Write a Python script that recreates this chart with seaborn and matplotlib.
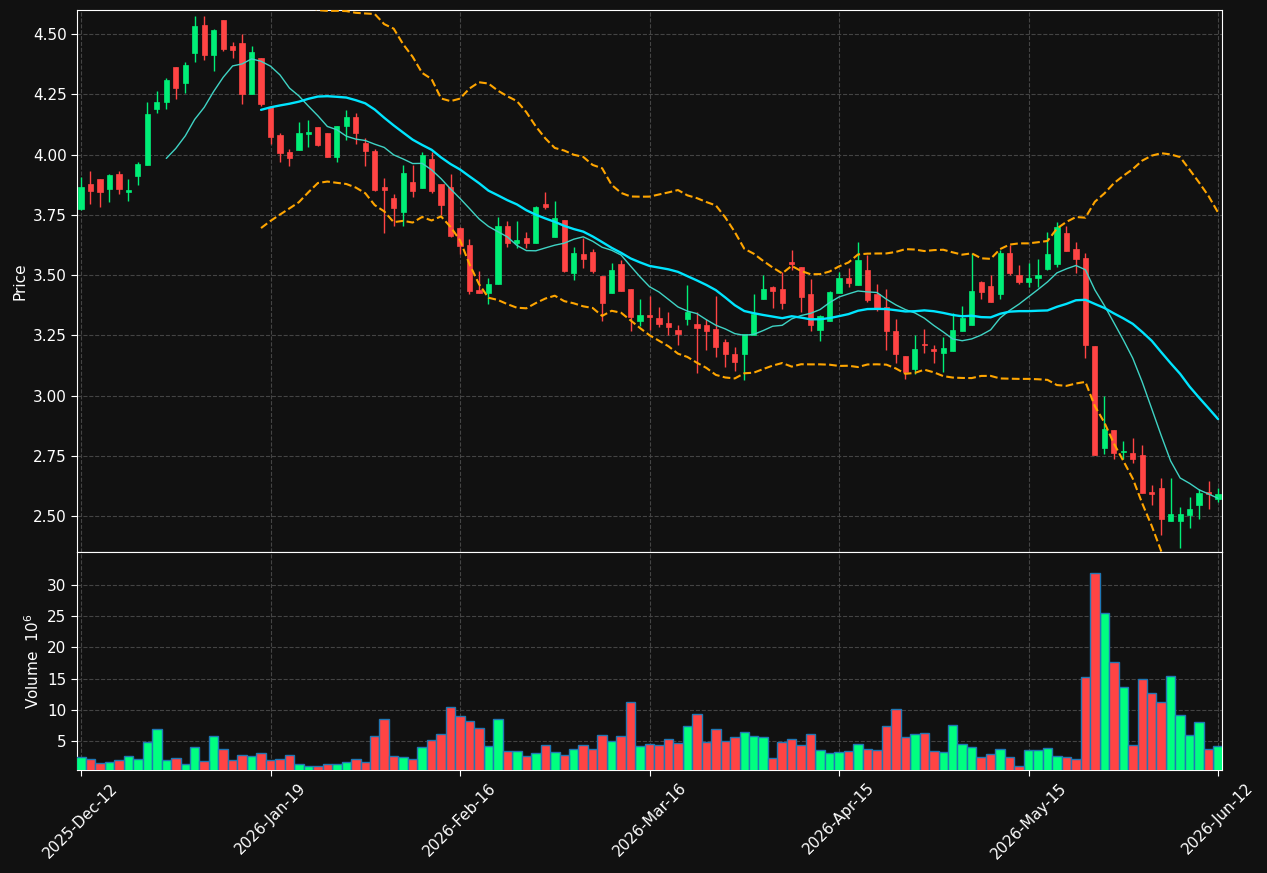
import matplotlib
matplotlib.use("Agg")
import matplotlib.pyplot as plt
import numpy as np
import pandas as pd
import seaborn as sns

# x positions are trading-day indices; only the tick labels carry dates
tick_pos = [0, 20, 40, 60, 80, 100, 120]
tick_labels = ['2025-Dec-12', '2026-Jan-19', '2026-Feb-16', '2026-Mar-16',
               '2026-Apr-15', '2026-May-15', '2026-Jun-12']

opens = [3.774, 3.878, 3.898, 3.857, 3.919, 3.846, 3.912, 3.958, 4.189, 4.219,
         4.363, 4.298, 4.422, 4.537, 4.414, 4.558, 4.450, 4.463, 4.252, 4.400,
         4.196, 4.081, 4.010, 4.019, 4.085, 4.114, 4.089, 3.991, 4.120, 4.156,
         4.048, 4.015, 3.865, 3.820, 3.763, 3.886, 3.862, 3.981, 3.878, 3.865,
         3.696, 3.624, 3.438, 3.427, 3.463, 3.703, 3.633, 3.654, 3.634, 3.796,
         3.660, 3.728, 3.509, 3.587, 3.595, 3.496, 3.427, 3.546, 3.442, 3.310,
         3.334, 3.322, 3.301, 3.272, 3.317, 3.297, 3.293, 3.276, 3.222, 3.172,
         3.173, 3.251, 3.400, 3.450, 3.442, 3.554, 3.533, 3.421, 3.272, 3.309,
         3.425, 3.488, 3.459, 3.521, 3.421, 3.367, 3.268, 3.164, 3.110, 3.214,
         3.193, 3.176, 3.185, 3.268, 3.293, 3.471, 3.454, 3.421, 3.591, 3.500,
         3.472, 3.489, 3.525, 3.546, 3.673, 3.607, 3.569, 3.205, 2.784, 2.857,
         2.764, 2.761, 2.753, 2.600, 2.616, 2.480, 2.480, 2.506, 2.547, 2.600,
         2.572]
highs = [3.908, 3.934, 3.900, 3.920, 3.934, 3.898, 3.968, 4.217, 4.263, 4.320,
         4.363, 4.385, 4.575, 4.575, 4.521, 4.558, 4.468, 4.499, 4.450, 4.402,
         4.200, 4.088, 4.022, 4.134, 4.143, 4.115, 4.090, 4.118, 4.185, 4.171,
         4.071, 4.022, 3.905, 3.835, 3.959, 3.955, 4.009, 4.012, 3.880, 3.918,
         3.700, 3.648, 3.517, 3.486, 3.743, 3.725, 3.723, 3.680, 3.786, 3.843,
         3.806, 3.730, 3.615, 3.655, 3.608, 3.497, 3.549, 3.562, 3.443, 3.399,
         3.413, 3.367, 3.346, 3.293, 3.459, 3.346, 3.317, 3.413, 3.234, 3.200,
         3.255, 3.421, 3.499, 3.454, 3.511, 3.604, 3.534, 3.485, 3.334, 3.434,
         3.514, 3.530, 3.636, 3.583, 3.463, 3.442, 3.317, 3.165, 3.250, 3.276,
         3.210, 3.243, 3.342, 3.371, 3.591, 3.475, 3.500, 3.604, 3.624, 3.541,
         3.551, 3.565, 3.680, 3.721, 3.705, 3.636, 3.590, 3.206, 2.997, 2.858,
         2.810, 2.822, 2.794, 2.627, 2.658, 2.658, 2.536, 2.578, 2.612, 2.644,
         2.615]
lows = [3.770, 3.797, 3.783, 3.804, 3.835, 3.808, 3.876, 3.958, 4.173, 4.190,
        4.229, 4.254, 4.383, 4.392, 4.345, 4.432, 4.402, 4.212, 4.250, 4.200,
        4.046, 3.968, 3.951, 4.019, 4.032, 4.035, 3.990, 3.970, 4.059, 4.046,
        3.951, 3.850, 3.673, 3.705, 3.705, 3.825, 3.860, 3.839, 3.749, 3.660,
        3.587, 3.422, 3.427, 3.379, 3.463, 3.617, 3.613, 3.613, 3.634, 3.773,
        3.660, 3.515, 3.478, 3.528, 3.509, 3.308, 3.427, 3.434, 3.268, 3.290,
        3.272, 3.284, 3.250, 3.208, 3.293, 3.092, 3.189, 3.161, 3.120, 3.103,
        3.063, 3.251, 3.400, 3.363, 3.359, 3.521, 3.348, 3.269, 3.226, 3.309,
        3.425, 3.451, 3.459, 3.387, 3.350, 3.189, 3.136, 3.070, 3.090, 3.178,
        3.136, 3.099, 3.185, 3.268, 3.293, 3.400, 3.388, 3.399, 3.500, 3.463,
        3.451, 3.449, 3.520, 3.534, 3.600, 3.508, 3.158, 2.754, 2.759, 2.735,
        2.738, 2.721, 2.597, 2.547, 2.420, 2.478, 2.366, 2.449, 2.486, 2.528,
        2.559]
closes = [3.865, 3.850, 3.846, 3.916, 3.857, 3.853, 3.961, 4.168, 4.218, 4.309,
          4.277, 4.371, 4.533, 4.414, 4.517, 4.439, 4.435, 4.252, 4.425, 4.211,
          4.074, 4.007, 3.987, 4.089, 4.093, 4.039, 3.991, 4.118, 4.156, 4.090,
          4.016, 3.853, 3.854, 3.779, 3.923, 3.850, 3.998, 3.849, 3.790, 3.663,
          3.622, 3.435, 3.427, 3.465, 3.703, 3.634, 3.645, 3.633, 3.782, 3.782,
          3.736, 3.518, 3.591, 3.566, 3.518, 3.385, 3.521, 3.434, 3.326, 3.334,
          3.326, 3.297, 3.284, 3.255, 3.346, 3.280, 3.268, 3.203, 3.173, 3.140,
          3.255, 3.338, 3.442, 3.434, 3.384, 3.546, 3.409, 3.293, 3.330, 3.429,
          3.488, 3.467, 3.562, 3.396, 3.359, 3.268, 3.172, 3.099, 3.193, 3.210,
          3.185, 3.197, 3.272, 3.322, 3.434, 3.429, 3.388, 3.591, 3.508, 3.471,
          3.488, 3.500, 3.587, 3.698, 3.601, 3.568, 3.211, 2.754, 2.861, 2.763,
          2.771, 2.738, 2.597, 2.593, 2.489, 2.508, 2.508, 2.529, 2.594, 2.591,
          2.591]
# volume in millions
volumes = [2.39, 2.07, 1.43, 1.59, 1.91, 2.55, 2.07, 4.79, 6.87, 1.91,
           2.23, 1.27, 3.99, 1.75, 5.75, 3.67, 1.91, 2.71, 2.55, 3.03,
           1.91, 2.07, 2.71, 1.27, 1.05, 1.05, 1.27, 1.27, 1.59, 2.07,
           1.59, 5.75, 8.47, 2.55, 2.39, 2.07, 3.99, 5.11, 6.07, 10.40,
           8.96, 8.16, 7.04, 4.15, 8.47, 3.35, 3.35, 2.55, 3.03, 4.31,
           3.19, 2.71, 3.67, 4.31, 3.67, 5.91, 4.95, 5.75, 11.20, 4.15,
           4.47, 4.31, 5.27, 4.63, 7.36, 9.28, 4.79, 6.87, 4.95, 5.59,
           6.39, 5.75, 5.59, 2.23, 4.79, 5.27, 4.31, 6.07, 3.51, 3.03,
           3.19, 3.35, 4.47, 3.67, 3.51, 7.36, 10.08, 5.59, 6.07, 6.23,
           3.35, 3.19, 7.52, 4.47, 3.99, 2.39, 2.87, 3.67, 2.39, 0.95,
           3.51, 3.51, 3.83, 2.55, 2.39, 2.07, 15.21, 31.87, 25.46, 17.61,
           13.60, 4.31, 14.89, 12.64, 11.20, 15.37, 9.12, 5.91, 8.00, 3.67,
           4.15]

UP = '#00ee77'
DOWN = '#ff4444'
BG = '#111111'

sns.set_style("dark", rc={
    "axes.facecolor": BG, "figure.facecolor": BG,
    "axes.edgecolor": "white", "text.color": "white",
    "axes.labelcolor": "white", "xtick.color": "white", "ytick.color": "white",
    "grid.color": "#444444", "grid.linestyle": "--",
})
plt.rcParams['font.family'] = ['DejaVu Sans']

df = pd.DataFrame({'o': opens, 'h': highs, 'l': lows, 'c': closes, 'v': volumes})
df['i'] = np.arange(len(df))
df['dir'] = np.where(df['c'] >= df['o'], 'up', 'down')
df['sma10'] = df['c'].rolling(10).mean()
df['sma20'] = df['c'].rolling(20).mean()
std20 = df['c'].rolling(20).std(ddof=0)
df['bb_up'] = df['sma20'] + 2 * std20
df['bb_lo'] = df['sma20'] - 2 * std20

fig = plt.figure(figsize=(12.67, 8.73), dpi=100)
ax = fig.add_axes([0.0608, 0.3677, 0.9037, 0.6208])
axv = fig.add_axes([0.0608, 0.118, 0.9037, 0.2497], sharex=ax)

# candles
cols = np.where(df['dir'] == 'up', UP, DOWN)
ax.vlines(df['i'], df['l'], df['h'], colors=cols, lw=1, zorder=2)
body = (df['c'] - df['o']).abs().clip(lower=0.004)
ax.bar(df['i'], body, bottom=df[['o', 'c']].min(axis=1), width=0.55,
       color=cols, edgecolor=cols, lw=0.5, zorder=3)

# moving averages and bands
sns.lineplot(data=df, x='i', y='sma10', ax=ax, color='#3fd3c4', lw=1, zorder=4)
sns.lineplot(data=df, x='i', y='sma20', ax=ax, color='#00e5ff', lw=1.7, zorder=4)
sns.lineplot(data=df, x='i', y='bb_up', ax=ax, color='#ffa500', lw=1.5, ls='--', zorder=4)
sns.lineplot(data=df, x='i', y='bb_lo', ax=ax, color='#ffa500', lw=1.5, ls='--', zorder=4)

# volume
sns.barplot(data=df, x='i', y='v', hue='dir', palette={'up': '#00ff80', 'down': DOWN},
            dodge=False, native_scale=True, width=1.0, edgecolor='#1f77b4',
            linewidth=1, saturation=1, legend=False, ax=axv, zorder=3)

ax.set_xlim(-0.42, 120.42)
ax.set_ylim(2.351, 4.600)
ax.set_yticks(np.arange(2.5, 4.51, 0.25))
ax.set_yticklabels([f'{t:.2f}' for t in np.arange(2.5, 4.51, 0.25)])
axv.set_ylim(0.35, 35.3)
axv.set_yticks([5, 10, 15, 20, 25, 30])

axv.set_xticks(tick_pos)
axv.set_xticklabels(tick_labels, rotation=45, ha='center', fontsize=11)
ax.tick_params(axis='x', labelbottom=False)

for a in (ax, axv):
    a.grid(True, color='#444444', ls='--', lw=0.8)
    a.tick_params(axis='both', colors='white', length=4, left=True, bottom=True, labelsize=11)
    for s in a.spines.values():
        s.set_color('white')
    a.set_xlabel('')
ax.set_ylabel('Price', fontsize=11)
axv.set_ylabel('Volume  $10^{6}$', fontsize=11)

fig.savefig('out.png', dpi=100, facecolor=BG)
